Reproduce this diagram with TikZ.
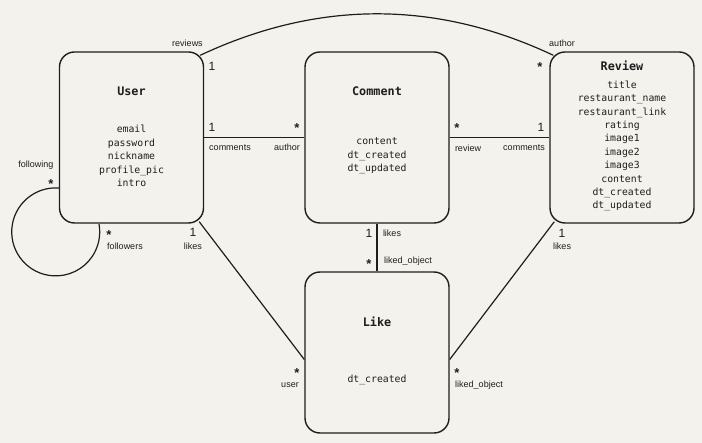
\documentclass[tikz,border=0pt]{standalone}
\usepackage{fontspec}
\setmainfont{Liberation Sans}
\setsansfont{Liberation Sans}
\setmonofont{DejaVu Sans Mono}
\usetikzlibrary{positioning}
\definecolor{bgcol}{HTML}{F3F2EC}
\definecolor{inkcol}{HTML}{1E1E1E}

\begin{document}
\begin{tikzpicture}[x=1pt, y=-1pt,
    entity/.style={draw=inkcol, line width=1.4pt, rounded corners=15pt, minimum width=144pt, minimum height=171pt},
    title/.style={font=\fontsize{11.8}{13}\selectfont\ttfamily\bfseries, text=inkcol},
    attrs/.style={font=\fontsize{9.8}{13.4}\selectfont\ttfamily, align=center, text=inkcol},
    role/.style={font=\fontsize{9}{10}\selectfont\sffamily, text=inkcol, inner sep=0pt},
    mult/.style={font=\fontsize{12}{12}\selectfont\sffamily, text=inkcol, inner sep=0pt},
    star/.style={mult, font=\fontsize{13}{13}\selectfont\sffamily\bfseries, yshift=-2.8pt},
    link/.style={draw=inkcol, line width=1.2pt}]
    % Fondo
    \fill[bgcol] (0,0) rectangle (702,443);
    \useasboundingbox (0,0) rectangle (702,443);

    % Entidades
    \node[entity] (user) at (131.5,137.5) {};
    \node[entity] (comment) at (377,137.5) {};
    \node[entity] (review) at (622,137.5) {};
    \node[entity, minimum height=161pt] (like) at (377,352.5) {};

    % Titulos
    \node[title] (userT) at (131.5,91) {User};
    \node[title] (commentT) at (377,91) {Comment};
    \node[title] (reviewT) at (622,66) {Review};
    \node[title] (likeT) at (377,322) {Like};

    % Atributos
    \node[attrs] (userA) at (131.5,156) {email\\password\\nickname\\profile\_pic\\intro};
    \node[attrs] (commentA) at (377,156) {content\\dt\_created\\dt\_updated};
    \node[attrs] (reviewA) at (622,146) {title\\restaurant\_name\\restaurant\_link\\rating\\image1\\image2\\image3\\content\\dt\_created\\dt\_updated};
    \node[attrs] (likeA) at (377,380) {dt\_created};

    % Relaciones
    \draw[link] (user) -- (comment);
    \draw[link] (comment) -- (review);
    \draw[link] (comment) -- (like);
    \draw[link] ([shift={(-5,-2)}]user.south east) -- ([shift={(0,7)}]like.west);
    \draw[link] ([shift={(5,-2)}]review.south west) -- ([shift={(0,7)}]like.east);
    \draw[link] ([shift={(-4,4)}]user.north east) .. controls (318,0) and (436,0) .. ([shift={(4,4)}]review.north west);
    \draw[link] ([shift={(0,50.5)}]user.west) arc[start angle=-86, end angle=-370.5, radius=44];

    % Etiquetas User - Review
    \node[role] (revL) at (187.5,43.5) {reviews};
    \node[mult] (revM) at (212,66) {1};
    \node[role] (authL) at (562,43.5) {author};
    \node[star] (authM) at (540,64) {*};

    % Etiquetas User - Comment
    \node[mult] (ucM) at (212,127) {1};
    \node[role] (ucL) at (230,147.5) {comments};
    \node[star] (cuM) at (297,125) {*};
    \node[role] (cuL) at (287,147.5) {author};

    % Etiquetas Comment - Review
    \node[star] (crM) at (457,125) {*};
    \node[role] (crL) at (468,148) {review};
    \node[mult] (rcM) at (541,127) {1};
    \node[role] (rcL) at (524,147.5) {comments};

    % Etiquetas Comment - Like
    \node[mult] (clM) at (369,233) {1};
    \node[role] (clL) at (392,233) {likes};
    \node[star] (lcM) at (369,261) {*};
    \node[role] (lcL) at (408,261.5) {liked\_object};

    % Etiquetas User - Like
    \node[mult] (ulM) at (193,232) {1};
    \node[role] (ulL) at (193,246.5) {likes};
    \node[star] (luM) at (297,370) {*};
    \node[role] (luL) at (290,385.5) {user};

    % Etiquetas Review - Like
    \node[mult] (rlM) at (562,233) {1};
    \node[role] (rlL) at (562,246.5) {likes};
    \node[star] (lrM) at (457,370) {*};
    \node[role] (lrL) at (479,385.5) {liked\_object};

    % Etiquetas following / followers
    \node[role] (fingL) at (36,165) {following};
    \node[star] (fingM) at (51,181) {*};
    \node[star] (fersM) at (109,232) {*};
    \node[role] (fersL) at (125,246.5) {followers};
\end{tikzpicture}
\end{document}
